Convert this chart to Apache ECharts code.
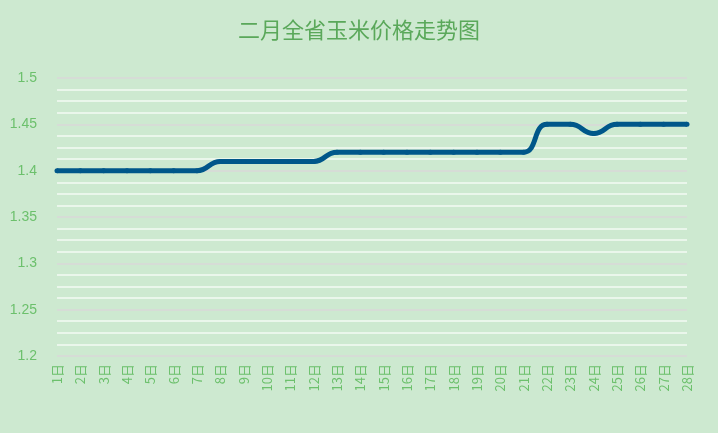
<!DOCTYPE html><html><head><meta charset="utf-8"><script src="https://cdn.jsdelivr.net/npm/echarts@6/dist/echarts.min.js"></script></head><body style="margin:0;background:#cde9d0"><div id="c" style="width:718px;height:433px"></div><script>
const days=[];for(let i=1;i<=28;i++)days.push(i+'日');
const prices=[1.40,1.40,1.40,1.40,1.40,1.40,1.40,1.41,1.41,1.41,1.41,1.41,1.42,1.42,1.42,1.42,1.42,1.42,1.42,1.42,1.42,1.45,1.45,1.44,1.45,1.45,1.45,1.45];
const c=echarts.init(document.getElementById('c'));
c.setOption({backgroundColor:'#cde9d0',
title:{text:'二月全省玉米价格走势图',left:'center',top:14,textStyle:{color:'#5aa85a',fontSize:22,fontWeight:'normal',fontFamily:'Noto Sans CJK SC'}},
grid:{left:57,right:31,top:78,bottom:77},
xAxis:{type:'category',data:days,boundaryGap:false,axisLine:{show:false},axisTick:{show:false},
axisLabel:{rotate:90,color:'#6cc06c',fontSize:13,interval:0,margin:8,fontFamily:'Noto Sans CJK SC'}},
yAxis:{type:'value',min:1.2,max:1.5,interval:0.05,axisLabel:{color:'#6cc06c',fontSize:14,margin:20,formatter:v=>String(+v.toFixed(2))},
splitLine:{lineStyle:{color:'#d6dcd6',width:2}},minorTick:{show:false,splitNumber:4},minorSplitLine:{show:true,lineStyle:{color:'#f4faf4',width:1.5}},axisLine:{show:false}},
series:[{type:'line',data:prices,smooth:true,symbol:'circle',symbolSize:5,itemStyle:{color:'#00578a'},lineStyle:{color:'#00578a',width:5}}]});
</script></body></html>
